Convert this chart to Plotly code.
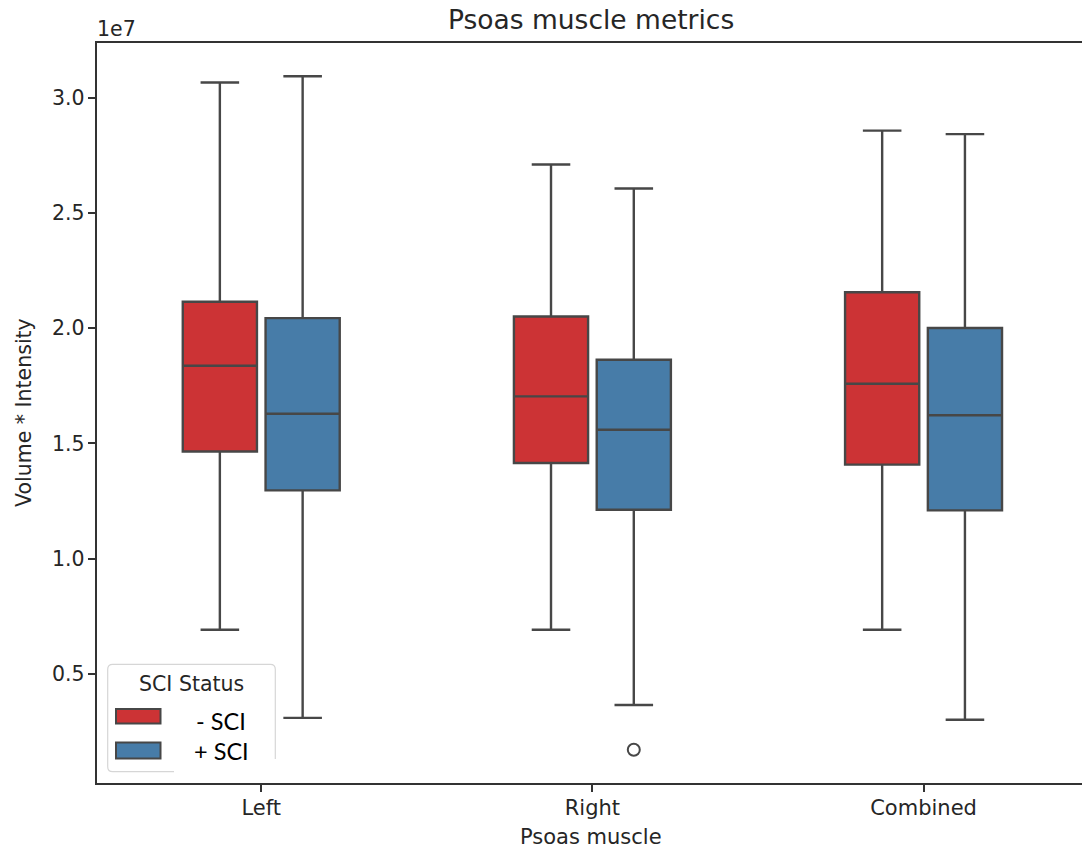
import plotly.graph_objects as go

# ---------------- data (values in units of 1e7) ----------------
categories = ["Left", "Right", "Combined"]
groups = ["- SCI", "+ SCI"]

neg_q1 = [1.465, 1.415, 1.408]
neg_median = [1.837, 1.704, 1.759]
neg_q3 = [2.115, 2.051, 2.156]
neg_low = [0.691, 0.691, 0.691]
neg_high = [3.067, 2.711, 2.858]

pos_q1 = [1.296, 1.212, 1.209]
pos_median = [1.629, 1.559, 1.622]
pos_q3 = [2.044, 1.863, 2.001]
pos_low = [0.308, 0.364, 0.300]
pos_high = [3.094, 2.607, 2.843]

pos_outlier_cat = ["Right"]
pos_outlier_val = [0.170]

ytick_vals = [0.5, 1.0, 1.5, 2.0, 2.5, 3.0]
ytick_text = ["0.5", "1.0", "1.5", "2.0", "2.5", "3.0"]

SCALE = 1e7

# ---------------- styles ----------------
RED = "#CC3335"
BLUE = "#477CA8"
LINE = "#474747"
AX = "#333333"
TXT = "#262626"
FONT = "DejaVu Sans"

W, H = 1082, 852
ML, MR, MT, MB = 97, 0, 43, 69
PW, PH = W - ML - MR, H - MT - MB


def px_x(px):
    return (px - ML) / PW


def px_y(py):
    return (H - MB - py) / PH


OFFSET = 0.125
BOXW = 0.224
xpos = list(range(len(categories)))


def sc(vals):
    return [v * SCALE for v in vals]


fig = go.Figure()

specs = [
    (groups[0], -OFFSET, RED, neg_q1, neg_median, neg_q3, neg_low, neg_high),
    (groups[1], OFFSET, BLUE, pos_q1, pos_median, pos_q3, pos_low, pos_high),
]
for name, off, col, q1, med, q3, lo, hi in specs:
    fig.add_trace(go.Box(
        name=name,
        x=[i + off for i in xpos],
        q1=sc(q1), median=sc(med), q3=sc(q3),
        lowerfence=sc(lo), upperfence=sc(hi),
        width=BOXW,
        whiskerwidth=0.52,
        fillcolor=col,
        line=dict(color=LINE, width=2.4),
        boxpoints=False,
        showlegend=False,
        hoverinfo="skip",
    ))

fig.add_trace(go.Scatter(
    x=[categories.index(c) + OFFSET for c in pos_outlier_cat],
    y=sc(pos_outlier_val),
    mode="markers",
    marker=dict(symbol="circle-open", size=12, color=LINE, line=dict(width=2)),
    showlegend=False,
    hoverinfo="skip",
))

x_left = -0.496
x_right = x_left + PW / 331.15
fig.update_xaxes(
    range=[x_left, x_right],
    tickvals=xpos,
    ticktext=categories,
    showgrid=False, zeroline=False,
    showline=True, linecolor=AX, linewidth=1.7, mirror=True,
    ticks="outside", ticklen=7, tickwidth=1.6, tickcolor=AX,
    tickfont=dict(family=FONT, size=21, color=TXT),
    ticklabelstandoff=-2,
)
fig.update_yaxes(
    range=[0.0254 * SCALE, 3.2386 * SCALE],
    tickvals=sc(ytick_vals),
    ticktext=ytick_text,
    showgrid=False, zeroline=False,
    showline=True, linecolor=AX, linewidth=1.7, mirror=False,
    ticks="outside", ticklen=7.5, tickwidth=1.6, tickcolor=AX,
    tickfont=dict(family=FONT, size=20.5, color=TXT),
    ticklabelstandoff=-1,
)

annotations = [
    dict(text="Psoas muscle metrics", x=px_x(591), y=px_y(19.5), xref="paper", yref="paper",
         xanchor="center", yanchor="middle", showarrow=False,
         font=dict(family=FONT, size=26.5, color=TXT)),
    dict(text="1e7", x=px_x(95), y=px_y(29), xref="paper", yref="paper",
         xanchor="left", yanchor="middle", showarrow=False,
         font=dict(family=FONT, size=20.5, color=TXT)),
    dict(text="Psoas muscle", x=px_x(591), y=px_y(837), xref="paper", yref="paper",
         xanchor="center", yanchor="middle", showarrow=False,
         font=dict(family=FONT, size=21, color=TXT)),
    dict(text="Volume * Intensity", x=px_x(24), y=px_y(413), xref="paper", yref="paper",
         xanchor="center", yanchor="middle", showarrow=False, textangle=-90,
         font=dict(family=FONT, size=20.5, color=TXT)),
    # legend texts
    dict(text="SCI Status", x=px_x(191.5), y=px_y(683.5), xref="paper", yref="paper",
         xanchor="center", yanchor="middle", showarrow=False,
         font=dict(family=FONT, size=20.5, color=TXT)),
    dict(text=groups[0], x=px_x(194), y=px_y(720.5), xref="paper", yref="paper",
         xanchor="left", yanchor="middle", showarrow=False,
         font=dict(family="Lato", size=23.5, color="#000000")),
    dict(text=groups[1], x=px_x(192), y=px_y(750.5), xref="paper", yref="paper",
         xanchor="left", yanchor="middle", showarrow=False,
         font=dict(family="Lato", size=23.5, color="#000000")),
]

# legend frame (rounded rectangle)
lx0, lx1, ly0, ly1, r = 107.7, 275.3, 664.3, 771.7, 5
rx, ry = r / PW, r / PH
X0, X1, Y0, Y1 = px_x(lx0), px_x(lx1), px_y(ly1), px_y(ly0)
path = (f"M {X0+rx},{Y0} L {X1-rx},{Y0} Q {X1},{Y0} {X1},{Y0+ry} "
        f"L {X1},{Y1-ry} Q {X1},{Y1} {X1-rx},{Y1} L {X0+rx},{Y1} "
        f"Q {X0},{Y1} {X0},{Y1-ry} L {X0},{Y0+ry} Q {X0},{Y0} {X0+rx},{Y0} Z")
shapes = [
    dict(type="path", path=path, xref="paper", yref="paper",
         fillcolor="rgba(255,255,255,0.85)", line=dict(color="#D6D6D6", width=1.2)),
    # white patch over the frame (pasted label area)
    dict(type="rect", xref="paper", yref="paper",
         x0=px_x(174), x1=px_x(279), y0=px_y(776), y1=px_y(759),
         fillcolor="white", line=dict(width=0)),
    dict(type="rect", xref="paper", yref="paper",
         x0=px_x(116), x1=px_x(160.5), y0=px_y(723.5), y1=px_y(709),
         fillcolor=RED, line=dict(color=LINE, width=2)),
    dict(type="rect", xref="paper", yref="paper",
         x0=px_x(116), x1=px_x(160.5), y0=px_y(758.5), y1=px_y(742.5),
         fillcolor=BLUE, line=dict(color=LINE, width=2)),
]

fig.update_layout(
    width=W, height=H,
    margin=dict(l=ML, r=MR, t=MT, b=MB, pad=0),
    paper_bgcolor="white", plot_bgcolor="white",
    annotations=annotations,
    shapes=shapes,
    showlegend=False,
)

fig.write_html(
    "out.html",
    config={"displayModeBar": False},
    post_script="document.body.style.margin='0px';document.body.style.overflow='hidden';",
)
